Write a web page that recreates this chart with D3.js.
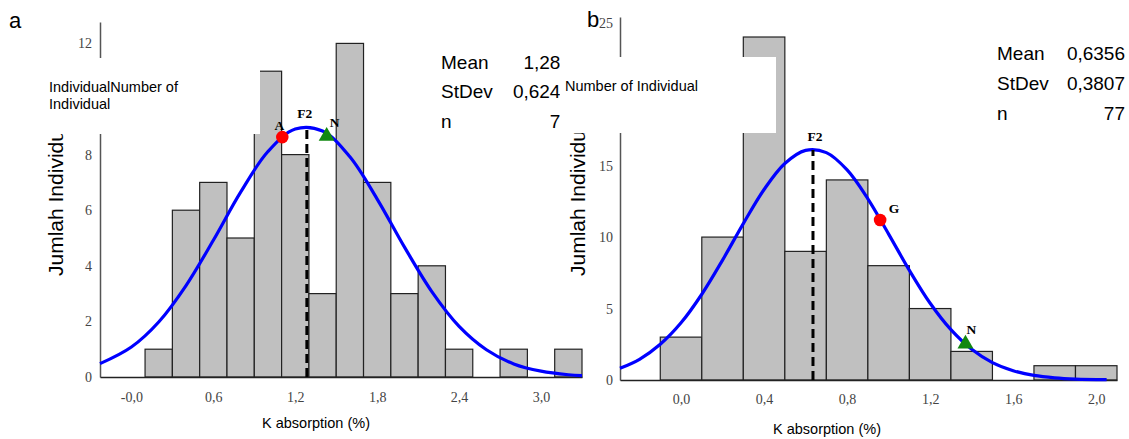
<!DOCTYPE html>
<html>
<head>
<meta charset="utf-8">
<script src="https://cdn.jsdelivr.net/npm/d3@7"></script>
<style>
  body { margin: 0; background: #fff; }
  .tick text { font-family: "Liberation Serif", "Times New Roman", serif; font-size: 14px; fill: #444; }
  .sans { font-family: "Liberation Sans", Arial, sans-serif; }
  .mark { font-family: "Liberation Serif", "Times New Roman", serif; font-size: 13.5px; font-weight: bold; }
</style>
</head>
<body>
<div id="chart"></div>
<script>
// PANEL A data
const EDGES_A = [0.1, 0.3, 0.5, 0.7, 0.9, 1.1, 1.3, 1.5, 1.7, 1.9, 2.1, 2.3, 2.5, 2.7, 2.9, 3.1, 3.3];
const COUNTS_A = [1, 6, 7, 5, 11, 8, 3, 12, 7, 3, 4, 1, 0, 1, 0, 1];
const CURVE_AX = [-0.23, 0, 0.2, 0.4, 0.6, 0.8, 1.0, 1.2, 1.4, 1.6, 1.8, 2.0, 2.2, 2.4, 2.6, 2.8, 3.0, 3.2, 3.3];
const CURVE_AY = [0.48, 1.08, 1.98, 3.29, 4.92, 6.65, 8.11, 8.92, 8.85, 7.92, 6.40, 4.67, 3.07, 1.82, 0.98, 0.47, 0.21, 0.08, 0.05];
const TICKS_AX = [0, 0.6, 1.2, 1.8, 2.4, 3.0];
const TICK_LABELS_AX = ["-0,0", "0,6", "1,2", "1,8", "2,4", "3,0"];
const TICKS_AY = [0, 2, 4, 6, 8, 12];   // 10 sits under the pasted label box
const F2_A = {x: 1.285, top: 9.0};
const POINTS_A = [{name: "A", x: 1.105, y: 8.63, shape: "circle"}, {name: "N", x: 1.43, y: 8.7, shape: "triangle"}];
const STATS_A = [["Mean", "1,285"], ["StDev", "0,6245"], ["n", "77"]];

// PANEL B data
const EDGES_B = [-0.1, 0.1, 0.3, 0.5, 0.7, 0.9, 1.1, 1.3, 1.5, 1.7, 1.9, 2.1];
const COUNTS_B = [3, 10, 24, 9, 14, 8, 5, 2, 0, 1, 1];
const CURVE_BX = [-0.294, -0.2, -0.1, 0, 0.1, 0.2, 0.3, 0.4, 0.5, 0.6, 0.7, 0.8, 0.9, 1.0, 1.1, 1.2, 1.3, 1.4, 1.5, 1.6, 1.7, 1.8, 1.9, 2.05];
const CURVE_BY = [0.82, 1.45, 2.50, 4.00, 6.00, 8.39, 10.94, 13.33, 15.15, 16.07, 15.91, 14.70, 12.68, 10.21, 7.67, 5.37, 3.52, 2.15, 1.22, 0.65, 0.32, 0.15, 0.065, 0.02];
const TICKS_BX = [0, 0.4, 0.8, 1.2, 1.6, 2.0];
const TICK_LABELS_BX = ["0,0", "0,4", "0,8", "1,2", "1,6", "2,0"];
const TICKS_BY = [0, 5, 10, 15, 25];    // 20 sits under the pasted label box
const F2_B = {x: 0.6356, top: 16.1};
const POINTS_B = [{name: "G", x: 0.959, y: 11.2, shape: "circle"}, {name: "N", x: 1.37, y: 2.6, shape: "triangle"}];
const STATS_B = [["Mean", "0,6356"], ["StDev", "0,3807"], ["n", "77"]];

const FRAME_WIDTH = 1129;
const FRAME_HEIGHT = 439;

const SVG = d3.select("#chart")
  .append("svg")
    .attr("width", FRAME_WIDTH)
    .attr("height", FRAME_HEIGHT)
    .style("display", "block");

// builds one histogram panel
function build_panel(cfg) {
  const X = d3.scaleLinear().domain(cfg.xDomain).range(cfg.xRange);
  const Y = d3.scaleLinear().domain(cfg.yDomain).range(cfg.yRange);
  const g = SVG.append("g");

  // bars
  const bins = cfg.counts.map((c, i) => ({x0: cfg.edges[i], x1: cfg.edges[i + 1], c: c}));
  g.selectAll("rect.bar")
    .data(bins)
    .enter()
    .append("rect")
      .attr("class", "bar")
      .attr("x", d => X(d.x0))
      .attr("y", d => Y(d.c))
      .attr("width", d => X(d.x1) - X(d.x0))
      .attr("height", d => Y(0) - Y(d.c))
      .attr("fill", "#c0c0c0")
      .attr("stroke", "#222")
      .attr("stroke-width", 1.2);

  // y axis
  const ya = g.append("g")
    .attr("transform", "translate(" + cfg.xRange[0] + ",0)")
    .call(d3.axisLeft(Y).tickValues(cfg.yTicks).tickSize(0).tickPadding(cfg.yPad));
  ya.select(".domain").attr("stroke", "#555").attr("stroke-width", 1.5);

  // x axis
  const xa = g.append("g")
    .attr("transform", "translate(0," + cfg.yRange[0] + ")")
    .call(d3.axisBottom(X).tickValues(cfg.xTicks).tickSize(0).tickPadding(cfg.xPad)
      .tickFormat((d, i) => cfg.xLabels[i]));
  xa.select(".domain").attr("stroke", "#222").attr("stroke-width", 1.5);

  // fitted curve
  const line = d3.line()
    .x(d => X(d[0]))
    .y(d => Y(d[1]))
    .curve(d3.curveCatmullRom);
  g.append("path")
    .datum(d3.zip(cfg.curveX, cfg.curveY))
    .attr("d", line)
    .attr("fill", "none")
    .attr("stroke", "#0000ff")
    .attr("stroke-width", 3.2);

  // F2 dashed line
  g.append("line")
    .attr("x1", X(cfg.f2.x)).attr("x2", X(cfg.f2.x))
    .attr("y1", Y(0)).attr("y2", Y(cfg.f2.top))
    .attr("stroke", "#000")
    .attr("stroke-width", 3)
    .attr("stroke-dasharray", "9,5");
  g.append("text")
    .attr("class", "mark")
    .attr("x", X(cfg.f2.x) + cfg.f2dx)
    .attr("y", Y(cfg.f2.top) - 9)
    .attr("text-anchor", "middle")
    .text("F2");

  // marked genotypes
  cfg.points.forEach((p, i) => {
    const px = X(p.x), py = Y(p.y);
    if (p.shape === "circle") {
      g.append("circle").attr("cx", px).attr("cy", py).attr("r", 6.3).attr("fill", "#ff0000");
    } else {
      g.append("path")
        .attr("d", d3.symbol().type(d3.symbolTriangle).size(110)())
        .attr("transform", "translate(" + px + "," + (py + 1) + ")")
        .attr("fill", "#118811");
    }
    g.append("text")
      .attr("class", "mark")
      .attr("x", px + cfg.labelOffsets[i][0])
      .attr("y", py + cfg.labelOffsets[i][1])
      .attr("text-anchor", "middle")
      .text(p.name);
  });

  // y title (its top end is hidden by the pasted box)
  g.append("text")
    .attr("class", "sans")
    .attr("transform", "translate(" + cfg.yTitleX + ",276) rotate(-90)")
    .style("font-size", "21px")
    .text("Jumlah Individual");

  // x title
  g.append("text")
    .attr("class", "sans")
    .attr("x", cfg.xTitle[0])
    .attr("y", cfg.xTitle[1])
    .attr("text-anchor", "middle")
    .style("font-size", "14.5px")
    .text("K absorption (%)");

  // stats block
  cfg.stats.forEach((s, i) => {
    g.append("text").attr("class", "sans")
      .attr("x", cfg.statsX[0]).attr("y", cfg.statsY[i])
      .style("font-size", "19px").text(s[0]);
    g.append("text").attr("class", "sans")
      .attr("x", cfg.statsX[1]).attr("y", cfg.statsY[i])
      .attr("text-anchor", "end")
      .style("font-size", "19px").text(s[1]);
  });

  // panel letter
  g.append("text")
    .attr("class", "sans")
    .attr("x", cfg.letter[0]).attr("y", cfg.letter[1])
    .style("font-size", "22px")
    .text(cfg.letter[2]);
}

build_panel({
  edges: EDGES_A, counts: COUNTS_A, curveX: CURVE_AX, curveY: CURVE_AY,
  xDomain: [-0.23, 3.3], xRange: [100, 582],
  yDomain: [0, 12.77], yRange: [377, 22],
  xTicks: TICKS_AX, xLabels: TICK_LABELS_AX, yTicks: TICKS_AY,
  xPad: 15, yPad: 8,
  f2: F2_A, f2dx: -2, points: POINTS_A, labelOffsets: [[-3, -7], [8, -8]],
  yTitleX: 63, xTitle: [316, 428],
  stats: STATS_A, statsX: [441, 571], statsY: [69, 98, 128],
  letter: [9, 28, "a"]
});

build_panel({
  edges: EDGES_B, counts: COUNTS_B, curveX: CURVE_BX, curveY: CURVE_BY,
  xDomain: [-0.294, 2.1], xRange: [620, 1117],
  yDomain: [0, 25.4], yRange: [380, 17],
  xTicks: TICKS_BX, xLabels: TICK_LABELS_BX, yTicks: TICKS_BY,
  xPad: 14, yPad: 7,
  f2: F2_B, f2dx: 2, points: POINTS_B, labelOffsets: [[14, -7], [6, -9]],
  yTitleX: 585, xTitle: [827, 434],
  stats: STATS_B, statsX: [997, 1125], statsY: [60, 90, 120],
  letter: [587, 27, "b"]
});

// white label boxes pasted over the plots
SVG.append("rect").attr("x", 40).attr("y", 58).attr("width", 220).attr("height", 76).attr("fill", "#fff");
SVG.append("rect").attr("x", 560).attr("y", 57).attr("width", 216).attr("height", 76).attr("fill", "#fff");
SVG.append("rect").attr("x", 560).attr("y", 48).attr("width", 42).attr("height", 11).attr("fill", "#fff");

SVG.append("text").attr("class", "sans").attr("x", 49).attr("y", 92)
  .style("font-size", "14.5px").text("IndividualNumber of");
SVG.append("text").attr("class", "sans").attr("x", 49).attr("y", 109)
  .style("font-size", "14.5px").text("Individual");
SVG.append("text").attr("class", "sans").attr("x", 565).attr("y", 91)
  .style("font-size", "14.5px").text("Number of Individual");
</script>
</body>
</html>
